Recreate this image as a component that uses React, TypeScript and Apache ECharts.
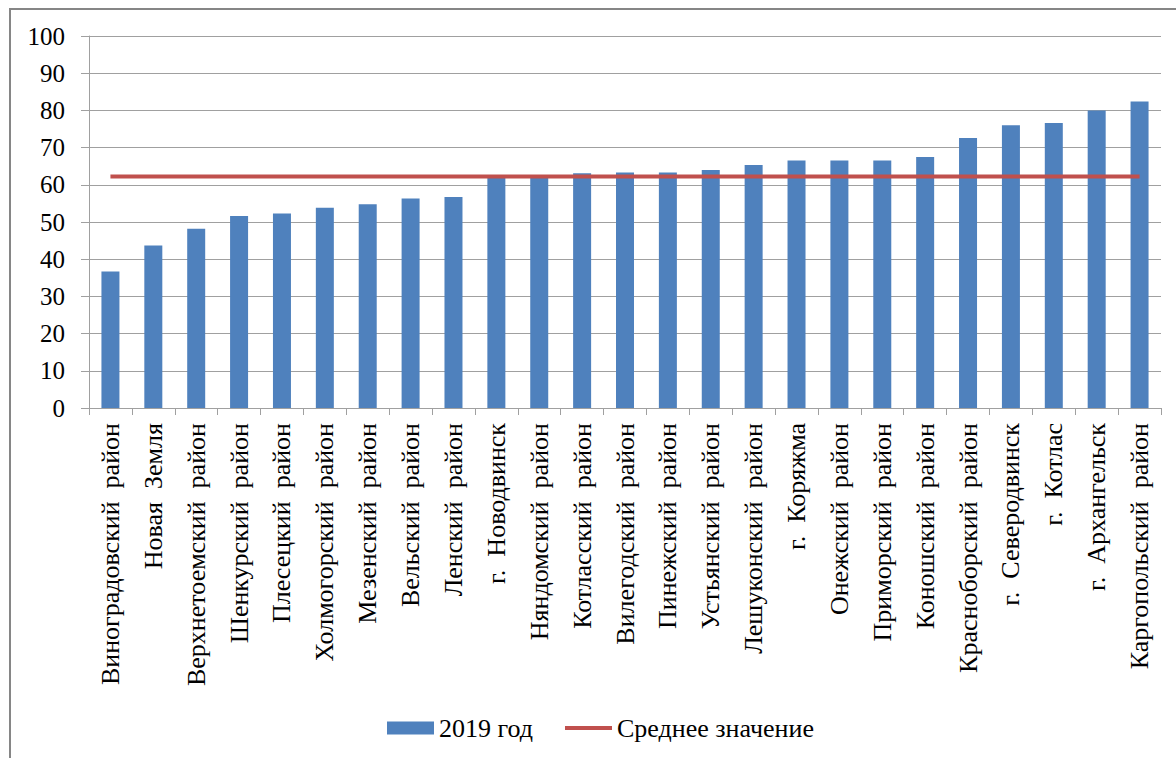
import React, { useEffect, useRef } from "react";
import * as echarts from "echarts";

const categories: string[] = [
  "Виноградовский  район",
  "Новая  Земля",
  "Верхнетоемский  район",
  "Шенкурский  район",
  "Плесецкий  район",
  "Холмогорский  район",
  "Мезенский  район",
  "Вельский  район",
  "Ленский  район",
  "г.  Новодвинск",
  "Няндомский  район",
  "Котласский  район",
  "Вилегодский  район",
  "Пинежский  район",
  "Устьянский  район",
  "Лешуконский  район",
  "г.  Коряжма",
  "Онежский  район",
  "Приморский  район",
  "Коношский  район",
  "Красноборский  район",
  "г.  Северодвинск",
  "г.  Котлас",
  "г.  Архангельск",
  "Каргопольский  район",
];

const values2019: number[] = [
  36.7, 43.7, 48.2, 51.6, 52.3, 53.8, 54.8, 56.3, 56.7, 62.0, 62.1, 63.1, 63.3,
  63.3, 64.0, 65.3, 66.5, 66.5, 66.5, 67.5, 72.6, 76.0, 76.6, 80.0, 82.4,
];

const averageValue = 62.2;
const averageLine: number[] = categories.map(() => averageValue);

const yTicks = { min: 0, max: 100, interval: 10 };

const seriesNames = ["2019 год", "Среднее значение"];

const FONT = "Liberation Serif";

export default function App() {
  const ref = useRef<HTMLDivElement>(null);
  useEffect(() => {
    if (!ref.current) return;
    const chart = echarts.init(ref.current, null, { renderer: "svg" });
    chart.setOption({
      animation: false,
      backgroundColor: "#ffffff",
      graphic: [
        {
          type: "rect",
          shape: { x: 10, y: 9, width: 1400, height: 1000 },
          style: { fill: "none", stroke: "#868686", lineWidth: 2 },
          silent: true,
          z: 0,
        },
      ],
      grid: { left: 89, right: 15, top: 36, bottom: 350, containLabel: false },
      legend: {
        left: 382,
        top: 710,
        itemWidth: 47,
        itemHeight: 13,
        itemGap: 32,
        textStyle: { fontFamily: FONT, fontSize: 26, color: "#000" },
        data: [
          { name: seriesNames[0], icon: "rect" },
          {
            name: seriesNames[1],
            icon: "path://M0,0 M0,4.5 L47,4.5 L47,8.5 L0,8.5 Z M47,13",
            itemStyle: { color: "#c0504d" },
          },
        ],
      },
      xAxis: {
        type: "category",
        data: categories,
        boundaryGap: true,
        axisLine: { show: true, lineStyle: { color: "#a0a0a0", width: 1 } },
        axisTick: { show: true, length: 7, lineStyle: { color: "#a0a0a0" } },
        axisLabel: {
          rotate: 90,
          interval: 0,
          margin: 15,
          color: "#000",
          fontFamily: FONT,
          fontSize: 26,
        },
        splitLine: { show: false },
      },
      yAxis: {
        type: "value",
        min: yTicks.min,
        max: yTicks.max,
        interval: yTicks.interval,
        axisLine: { show: true, lineStyle: { color: "#a0a0a0", width: 1 } },
        axisTick: { show: true, length: 8, lineStyle: { color: "#a0a0a0" } },
        axisLabel: {
          margin: 24,
          color: "#000",
          fontFamily: FONT,
          fontSize: 25,
        },
        splitLine: { show: true, lineStyle: { color: "#a0a0a0", width: 1 } },
      },
      series: [
        {
          name: seriesNames[0],
          type: "bar",
          data: values2019,
          barWidth: 18,
          itemStyle: { color: "#4f81bd" },
        },
        {
          name: seriesNames[1],
          type: "line",
          data: averageLine,
          symbol: "none",
          lineStyle: { color: "#c0504d", width: 4 },
          itemStyle: { color: "#c0504d" },
          z: 5,
        },
      ],
    });
    return () => chart.dispose();
  }, []);
  return (
    <div
      ref={ref}
      style={{ position: "fixed", left: 0, top: 0, width: 1176, height: 758 }}
    />
  );
}
